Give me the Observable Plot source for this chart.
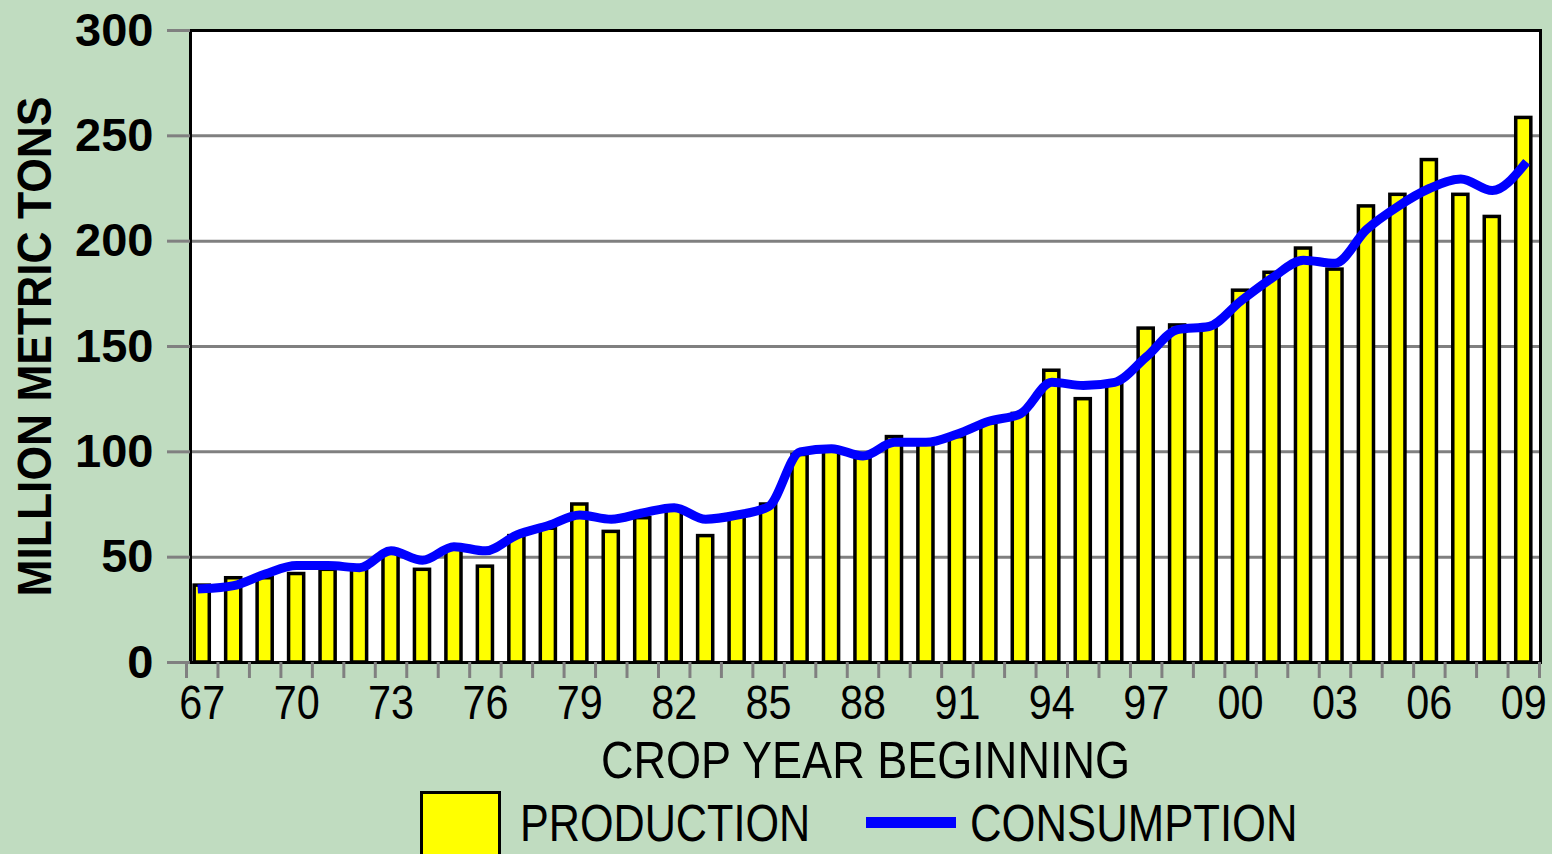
<!DOCTYPE html>
<html>
<head>
<meta charset="utf-8">
<script src="https://cdn.jsdelivr.net/npm/d3@7"></script>
<script src="https://cdn.jsdelivr.net/npm/@observablehq/plot@0.6"></script>
<style>
  html, body { margin: 0; padding: 0; background: #c0dcc0; width: 1552px; height: 854px; overflow: hidden; position: relative; }
  #chart svg { display: block; }
  .sw { position: absolute; left: 420px; top: 791px; width: 75px; height: 80px; background: #ffff00; border: 3px solid #000; }
  .ln { position: absolute; left: 866px; top: 817px; width: 90px; height: 11px; background: #0000ff; }
  .lbl { position: absolute; top: 797px; font-family: "Liberation Sans", Arial, sans-serif; font-size: 52px; line-height: 52px; color: #000; white-space: nowrap; transform-origin: 0 50%; }
</style>
</head>
<body>
<div id="chart"></div>
<div class="sw"></div><div class="lbl" style="left:520px; transform: scaleX(0.83)">PRODUCTION</div>
<div class="ln"></div><div class="lbl" style="left:970px; transform: scaleX(0.84)">CONSUMPTION</div>
<script>
const years = [1967,1968,1969,1970,1971,1972,1973,1974,1975,1976,1977,1978,1979,1980,1981,1982,1983,1984,1985,1986,1987,1988,1989,1990,1991,1992,1993,1994,1995,1996,1997,1998,1999,2000,2001,2002,2003,2004,2005,2006,2007,2008,2009];
const production = [36.5,40,40,42,44,44,52,44,54,45.5,60,63.5,75,62,68.5,72.5,60,70,75,98.5,101,97,107,104,107,113.5,118,138.5,125,133,158.5,160,160,176.5,185,196.5,186.5,216.5,222,238.5,222,211.5,258.5];
const consumption = [35,36.5,42,46,46,45,53,48.5,55,53,60.5,65,70,68,71,73.5,68,70,74,100,101.5,98,104.5,104.5,108.5,114.5,118,133,131.5,133,145,158,159.5,171.5,182.5,191,189.5,205.5,216.5,225,229.5,224,236];
const labelYears = [1967,1970,1973,1976,1979,1982,1985,1988,1991,1994,1997,2000,2003,2006,2009];
const yTicks = [0,50,100,150,200,250,300];
const gridTicks = [50,100,150,200,250];
const yTitle = "MILLION METRIC TONS";
const xTitle = "CROP YEAR BEGINNING";

const data = years.map((y, i) => ({year: y, prod: production[i], cons: consumption[i]}));
const sans = '"Liberation Sans", Arial, sans-serif';
const half = 15.73;

const chart = Plot.plot({
  width: 1552,
  height: 788,
  marginTop: 30,
  marginLeft: 190,
  marginRight: 12,
  marginBottom: 126,
  style: {background: "transparent", overflow: "visible", fontFamily: sans, color: "black"},
  x: {type: "band", domain: years, paddingInner: 0.52, paddingOuter: 0.26, round: false, insetLeft: -4, insetRight: 1, axis: null, label: null},
  y: {domain: [0, 300], axis: null, label: null},
  marks: [
    Plot.frame({fill: "white"}),
    Plot.gridY({ticks: gridTicks, stroke: "#808080", strokeOpacity: 1, strokeWidth: 3}),
    Plot.barY(data, {x: "year", y: "prod", fill: "#ffff00", stroke: "black", strokeWidth: 3.5}),
    Plot.line(data, {x: "year", y: "cons", stroke: "#0000ff", strokeWidth: 9, curve: "monotone-x", strokeLinecap: "square"}),
    Plot.frame({stroke: "black", strokeWidth: 3}),
    Plot.axisY({ticks: yTicks, tickSize: 23, tickPadding: 14, stroke: "#808080", strokeWidth: 3, fill: "black", fontSize: 47, fontWeight: "bold", label: null}),
    Plot.axisX({ticks: years, tickSize: 16, dx: -half, stroke: "#808080", strokeWidth: 3, tickFormat: () => "", label: null}),
    Plot.axisX({ticks: [years[years.length - 1]], tickSize: 16, dx: half, stroke: "#808080", strokeWidth: 3, tickFormat: () => "", label: null}),
    Plot.axisX({ticks: labelYears, tickSize: 0, tickPadding: 22, tickFormat: d => String(d).slice(2), fill: "black", fontSize: 48, className: "xlab", label: null}),
    Plot.text([yTitle], {text: d => d, frameAnchor: "left", textAnchor: "middle", rotate: -90, dx: -155, fontSize: 49, fontWeight: "bold", fill: "black", className: "ytitle"}),
    Plot.text([xTitle], {text: d => d, frameAnchor: "bottom", lineAnchor: "bottom", dy: 115, fontSize: 52, fill: "black", className: "xtitle"})
  ]
});
document.getElementById("chart").appendChild(chart);

// condense the narrow lettering of the original
const svg = d3.select(chart);
svg.selectAll(".xlab text").attr("textLength", 46).attr("lengthAdjust", "spacingAndGlyphs");
svg.selectAll(".xtitle text").attr("textLength", 529).attr("lengthAdjust", "spacingAndGlyphs");
svg.selectAll(".ytitle text").attr("textLength", 500).attr("lengthAdjust", "spacingAndGlyphs");
</script>
</body>
</html>
